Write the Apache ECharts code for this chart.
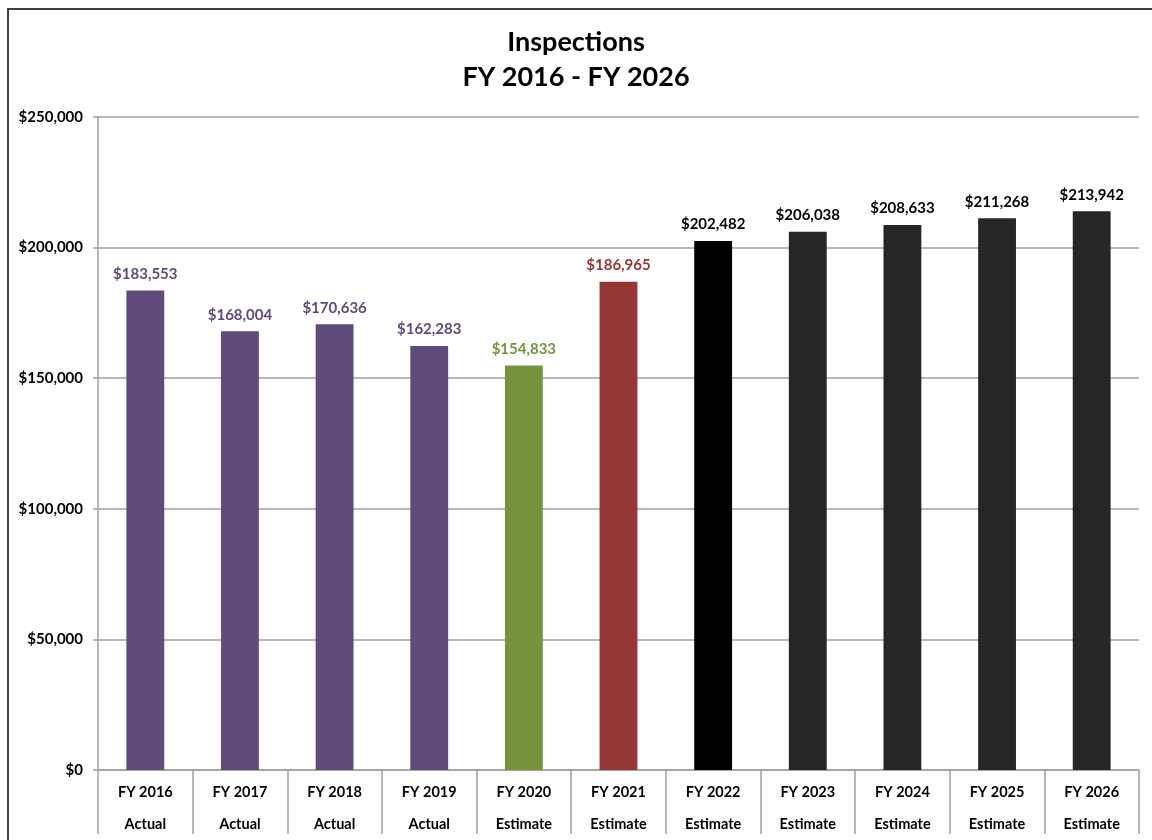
<!DOCTYPE html>
<html>
<head>
<meta charset="utf-8">
<title>Inspections</title>
<script src="https://cdn.jsdelivr.net/npm/echarts@6/dist/echarts.min.js"></script>
<style>
  html, body { margin: 0; padding: 0; background: #fff; }
  #chart { width: 1152px; height: 840px; }
</style>
</head>
<body>
<div id="chart"></div>
<script type="text/javascript">

// data
var years = ['FY 2016', 'FY 2017', 'FY 2018', 'FY 2019', 'FY 2020', 'FY 2021',
             'FY 2022', 'FY 2023', 'FY 2024', 'FY 2025', 'FY 2026'];
var statusLabels = ['Actual', 'Actual', 'Actual', 'Actual', 'Estimate', 'Estimate',
                    'Estimate', 'Estimate', 'Estimate', 'Estimate', 'Estimate'];
var amounts = [183553, 168004, 170636, 162283, 154833, 186965,
               202482, 206038, 208633, 211268, 213942];

// colours per bar
var barColors = ['#604a7b', '#604a7b', '#604a7b', '#604a7b', '#77933c', '#953735',
                 '#000000', '#262626', '#262626', '#262626', '#262626'];
var labelColors = ['#604a7b', '#604a7b', '#604a7b', '#604a7b', '#77933c', '#953735',
                   '#000000', '#000000', '#000000', '#000000', '#000000'];

var FONT = 'Lato, "Open Sans", sans-serif';

function money(v) {
    return '$' + v.toString().replace(/\B(?=(\d{3})+(?!\d))/g, ',');
}

var chart = echarts.init(document.getElementById('chart'));

var barData = [];
for (var i = 0; i < amounts.length; i++) {
    barData.push({
        value: amounts[i],
        itemStyle: { color: barColors[i] },
        label: { color: labelColors[i] }
    });
}

var option = {
    animation: false,
    backgroundColor: '#fff',
    textStyle: { fontFamily: FONT },
    title: {
        text: 'Inspections\nFY 2016 - FY 2026',
        left: 'center',
        top: 20,
        textStyle: {
            fontFamily: FONT,
            fontSize: 27,
            fontWeight: 'bold',
            color: '#000',
            lineHeight: 35
        }
    },
    graphic: [
        {
            // outer chart frame (left/top edges visible)
            type: 'rect',
            shape: { x: 8, y: 9, width: 1300, height: 1000 },
            style: { fill: 'none', stroke: '#404040', lineWidth: 2 },
            silent: true
        }
    ],
    grid: {
        left: 98,
        right: 13,
        top: 117,
        bottom: 69
    },
    xAxis: {
        type: 'category',
        data: years,
        axisLine: { lineStyle: { color: '#a0a0a0', width: 1.5 } },
        axisTick: {
            show: true,
            alignWithLabel: false,
            length: 64,
            lineStyle: { color: '#a0a0a0', width: 1.5 }
        },
        axisLabel: {
            interval: 0,
            margin: 6,
            fontFamily: FONT,
            fontSize: 14.5,
            fontWeight: 'bold',
            color: '#000',
            lineHeight: 32,
            formatter: function (val, idx) {
                return val + '\n' + statusLabels[idx];
            }
        }
    },
    yAxis: {
        type: 'value',
        min: 0,
        max: 250000,
        interval: 50000,
        axisLine: { show: true, lineStyle: { color: '#a0a0a0', width: 1.5 } },
        axisTick: { show: true, length: 5, lineStyle: { color: '#a0a0a0', width: 1.5 } },
        splitLine: { lineStyle: { color: '#a0a0a0', width: 1.5 } },
        axisLabel: {
            margin: 15,
            fontFamily: FONT,
            fontSize: 15,
            fontWeight: 'bold',
            color: '#000',
            formatter: money
        }
    },
    series: [
        {
            name: 'Inspections',
            type: 'bar',
            barWidth: '40%',
            data: barData,
            label: {
                show: true,
                position: 'top',
                distance: 9,
                fontFamily: FONT,
                fontSize: 15,
                fontWeight: 'bold',
                formatter: function (p) { return money(p.value); }
            }
        }
    ]
};

chart.setOption(option);

</script>
</body>
</html>
